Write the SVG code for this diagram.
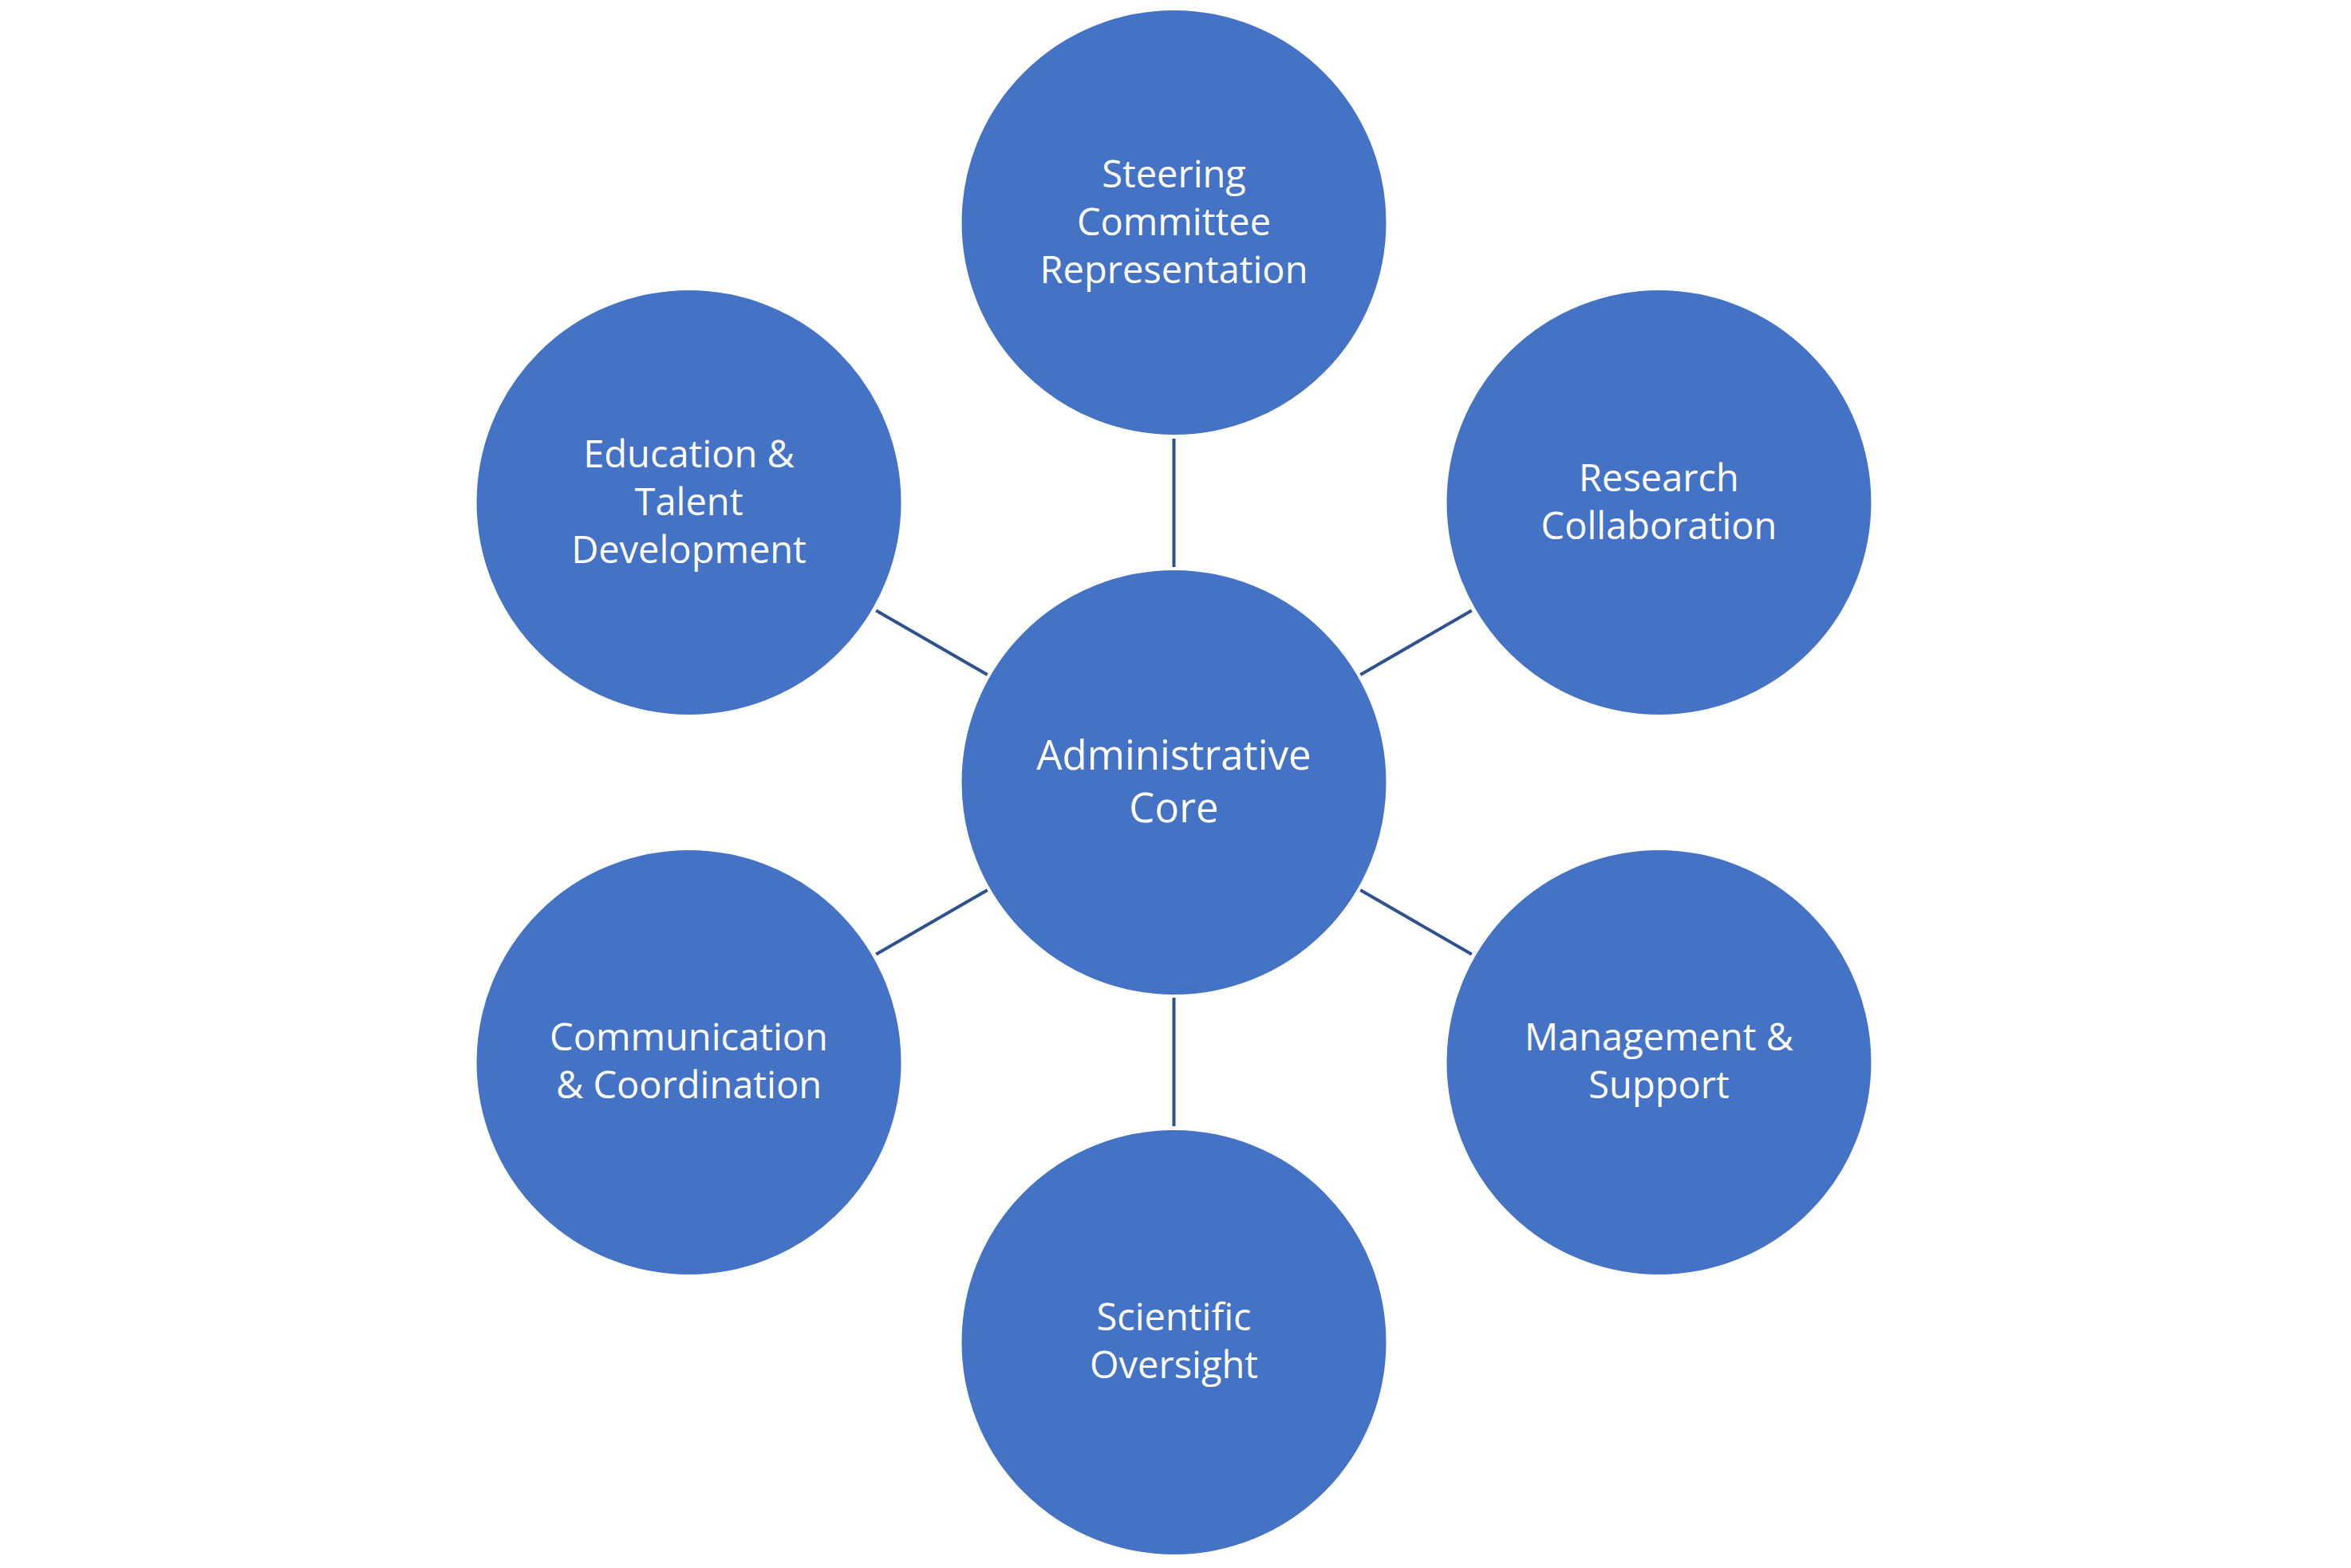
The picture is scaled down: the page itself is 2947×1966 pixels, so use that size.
<svg xmlns="http://www.w3.org/2000/svg" width="2947" height="1966" viewBox="0 0 2947 1966">
<style>
.node{fill:#4472C4;stroke:#FFFFFF;stroke-width:2}
.lbl{font-family:"Open Sans","Noto Sans","Liberation Sans",sans-serif;font-size:47px;fill:#FFFFFF;text-anchor:middle}
.core{font-size:51px}
.conn{stroke:#2F528F;stroke-width:4;fill:none}
</style>
<rect width="2947" height="1966" fill="#FFFFFF"/>
<g id="connectors">
<line class="conn" x1="1471.5" y1="711" x2="1471.5" y2="550"/>
<line class="conn" x1="1471.5" y1="1251" x2="1471.5" y2="1412"/>
<line class="conn" x1="1705.3" y1="846" x2="1844.8" y2="765.5"/>
<line class="conn" x1="1705.3" y1="1116" x2="1844.8" y2="1196.5"/>
<line class="conn" x1="1237.7" y1="1116" x2="1098.2" y2="1196.5"/>
<line class="conn" x1="1237.7" y1="846" x2="1098.2" y2="765.5"/>
</g>
<g id="core">
<circle class="node" cx="1471.5" cy="981" r="267"/>
<text class="lbl core" x="1471.5" y="965">Administrative</text>
<text class="lbl core" x="1471.5" y="1031">Core</text>
</g>
<g id="steering">
<circle class="node" cx="1471.5" cy="279" r="267"/>
<text class="lbl" x="1471.5" y="235">Steering</text>
<text class="lbl" x="1471.5" y="295">Committee</text>
<text class="lbl" x="1471.5" y="355">Representation</text>
</g>
<g id="research">
<circle class="node" cx="2079.5" cy="630" r="267"/>
<text class="lbl" x="2079.5" y="616">Research</text>
<text class="lbl" x="2079.5" y="676">Collaboration</text>
</g>
<g id="management">
<circle class="node" cx="2079.5" cy="1332" r="267"/>
<text class="lbl" x="2079.5" y="1317">Management &amp;</text>
<text class="lbl" x="2079.5" y="1377">Support</text>
</g>
<g id="scientific">
<circle class="node" cx="1471.5" cy="1683" r="267"/>
<text class="lbl" x="1471.5" y="1668">Scientific</text>
<text class="lbl" x="1471.5" y="1728">Oversight</text>
</g>
<g id="communication">
<circle class="node" cx="863.5" cy="1332" r="267"/>
<text class="lbl" x="863.5" y="1317">Communication</text>
<text class="lbl" x="863.5" y="1377">&amp; Coordination</text>
</g>
<g id="education">
<circle class="node" cx="863.5" cy="630" r="267"/>
<text class="lbl" x="863.5" y="586">Education &amp;</text>
<text class="lbl" x="863.5" y="646">Talent</text>
<text class="lbl" x="863.5" y="706">Development</text>
</g>
</svg>
